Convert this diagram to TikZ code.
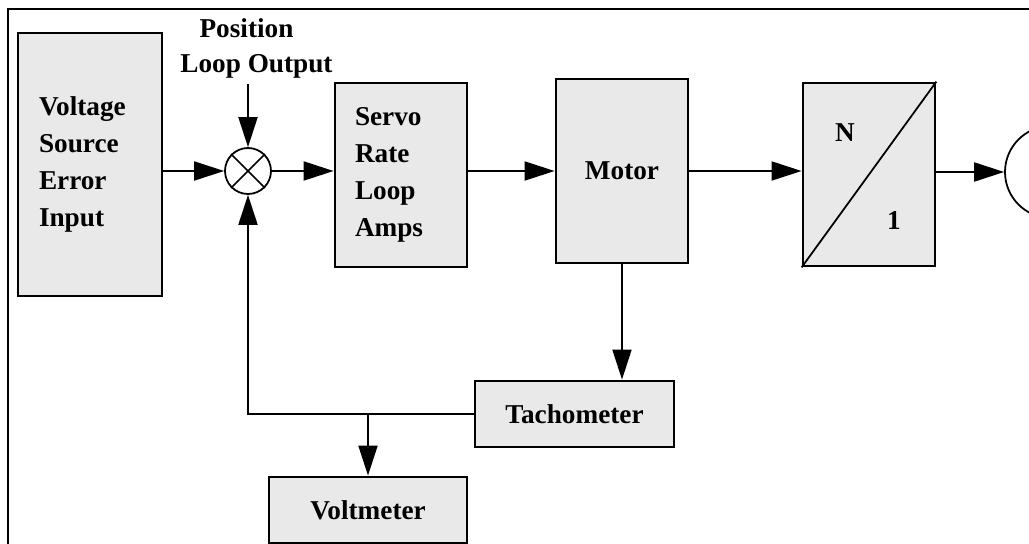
\documentclass[tikz,border=0pt]{standalone}
\usepackage{fontspec}
\setmainfont{Liberation Serif}
\usetikzlibrary{arrows.meta, positioning}
\definecolor{boxgray}{HTML}{E9E9E9}

\begin{document}
\begin{tikzpicture}[x=0.02cm, y=-0.02cm, font=\fontsize{15.5}{21}\selectfont\bfseries,
      block/.style = {draw, line width=1.6pt, fill=boxgray, inner sep=0pt},
      sum/.style = {draw, circle, line width=1pt, minimum size=0.92cm, inner sep=0pt},
      conn/.style = {line width=1.1pt, -{Triangle[length=0.6cm, width=0.38cm]}}]
      \clip (0,0) rectangle (1029,544);
      \draw[line width=0.8pt] (8,560) -- (8,9) -- (1040,9);

      \node[block, minimum width=2.88cm, minimum height=5.26cm, text width=2.04cm, align=left] (src) at (90,164.5) {Voltage\\Source\\Error\\Input};
      \node[sum] (sum) at (248,171) {};
      \node[block, minimum width=2.64cm, minimum height=3.68cm, text width=1.84cm, align=left] (servo) at (401,175) {Servo\\Rate\\Loop\\Amps};
      \node[block, minimum width=2.64cm, minimum height=3.68cm] (motor) at (622,171) {Motor};
      \node[block, minimum width=2.64cm, minimum height=3.66cm] (gear) at (869,174.5) {};
      \node (ratioN) at (845,133) {N};
      \node (ratio1) at (894,221) {1};
      \node[draw, circle, line width=1pt, minimum size=1.84cm] (load) at (1051,172) {};
      \node[block, minimum width=3.98cm, minimum height=1.32cm] (tach) at (574.5,414) {Tachometer};
      \node[block, minimum width=3.96cm, minimum height=1.32cm] (volt) at (368,510) {Voltmeter};
      \node (poslbl) at (246.5,28) {Position};
      \node (looplbl) at (256.5,66) {Loop Output};

      \draw[line width=1pt] (sum.north west) -- (sum.south east) (sum.north east) -- (sum.south west);
      \draw[line width=1pt] (gear.south west) -- (gear.north east);

      \draw[conn] (looplbl.south -| sum) -- (sum.north);
      \draw[conn] (src.east |- sum) -- (sum.west);
      \draw[conn] (sum.east) -- (sum.east -| servo.west);
      \draw[conn] (servo.east |- motor) -- (motor.west);
      \draw[conn] (motor.east) -- (motor.east -| gear.west);
      \draw[conn] (gear.east |- load) -- (load.west);
      \draw[conn] (motor.south) -- (motor.south |- tach.north);
      \draw[conn] (tach.west) -| (sum.south);
      \coordinate (tap) at (tach.west -| volt.north);
      \draw[conn] (tap) -- (volt.north);
    \end{tikzpicture}
\end{document}
